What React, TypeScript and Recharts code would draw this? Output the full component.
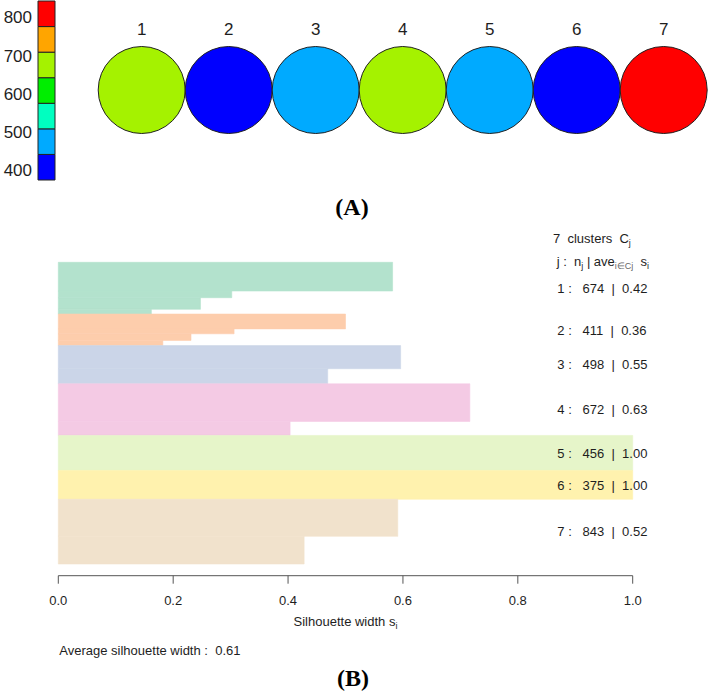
import React from 'react';
import { ComposedChart, ScatterChart, Scatter, XAxis, YAxis, ZAxis, ReferenceArea } from 'recharts';

// cluster summary
const clusterIds = [1, 2, 3, 4, 5, 6, 7];
const clusterSizes = [674, 411, 498, 672, 456, 375, 843];
const clusterAvg = ['0.42', '0.36', '0.55', '0.63', '1.00', '1.00', '0.52'];
const avgWidth = '0.61';

// silhouette steps inside each cluster (width, number of observations)
const stepWidths = [
  [0.582, 0.302, 0.2475, 0.162],
  [0.5, 0.306, 0.231, 0.182],
  [0.596, 0.469],
  [0.7165, 0.4035],
  [1.0],
  [1.0],
  [0.591, 0.428],
];
const stepCounts = [
  [374, 87, 151, 62],
  [193, 64, 86, 68],
  [301, 197],
  [490, 182],
  [456],
  [375],
  [483, 360],
];

const sizeTicks = [400, 500, 600, 700, 800];
const silTicks = [0, 0.2, 0.4, 0.6, 0.8, 1.0];

const rampColors = ['#0000FF', '#00AAFF', '#00FFC0', '#00EE00', '#A5F200', '#FFA500', '#FF0000'];
const pastel = ['#B3E2CD', '#FDCDAC', '#CBD5E8', '#F4CAE4', '#E6F5C9', '#FFF2AE', '#F1E2CC'];

const SANS = '"Liberation Sans", Arial, sans-serif';
const SERIF = '"Liberation Serif", "Times New Roman", serif';
const INK = '#1e1e1e';

const nMin = Math.min(...clusterSizes);
const nMax = Math.max(...clusterSizes);
const binSize = (nMax - nMin) / rampColors.length;
const bins = rampColors.map((c, i) => ({ key: 0.5, lo: nMin + i * binSize, hi: nMin + (i + 1) * binSize, color: c }));
const colorFor = (n: number) =>
  rampColors[Math.min(rampColors.length - 1, Math.floor((n - nMin) / binSize))];

const circleData = clusterIds.map((id, i) => ({ id, level: 0.5, n: clusterSizes[i] }));

const steps: { id: number; w: number; y1: number; y2: number; fill: string }[] = [];
const clusters: { id: number; n: number; ave: string; y1: number; y2: number }[] = [];
let pos = 0;
clusterIds.forEach((id, i) => {
  const start = pos;
  stepWidths[i].forEach((w, k) => {
    steps.push({ id, w, y1: pos, y2: pos + stepCounts[i][k], fill: pastel[i] });
    pos += stepCounts[i][k];
  });
  clusters.push({ id, n: clusterSizes[i], ave: clusterAvg[i], y1: start, y2: pos });
});
const total = pos;

const CircleShape = (props: any) => {
  const { cx, cy, width, payload } = props;
  return <circle cx={cx} cy={cy} r={width / 2} fill={colorFor(payload.n)} stroke="#222" strokeWidth={1} />;
};

const ClusterText = (props: any) => {
  const { viewBox, c } = props;
  const y = viewBox.y + viewBox.height / 2 + 4.7;
  const x = viewBox.x + viewBox.width - 75.4;
  return (
    <text x={x} y={y} fontSize={13} fontFamily={SANS} fill={INK} xmlSpace="preserve" style={{ whiteSpace: 'pre' }}>
      {`${c.id} :   ${c.n}  |  ${c.ave}`}
    </text>
  );
};

export default function App() {
  return (
    <div style={{ position: 'absolute', left: 0, top: 0, width: 709, height: 693, background: '#fff', overflow: 'hidden' }}>
      {/* colour key */}
      <div style={{ position: 'absolute', left: 0, top: 0 }}>
        <ComposedChart data={bins} width={60} height={190} margin={{ top: 1, right: 5, bottom: 10, left: 0 }}>
          <XAxis type="number" dataKey="key" domain={[0, 1]} allowDataOverflow hide />
          <YAxis
            type="number"
            dataKey="lo"
            domain={[nMin, nMax]}
            allowDataOverflow
            ticks={sizeTicks}
            width={38}
            axisLine={false}
            tickLine={false}
            tickSize={4}
            tickMargin={2}
            tick={{ fontSize: 17, fill: INK, fontFamily: SANS }}
          />
          {bins.map((b, i) => (
            <ReferenceArea key={i} x1={0} x2={1} y1={b.lo} y2={b.hi} fill={b.color} fillOpacity={1} stroke="#222" strokeWidth={1} ifOverflow="visible" />
          ))}
        </ComposedChart>
      </div>

      {/* cluster circles */}
      <div style={{ position: 'absolute', left: 0, top: 0 }}>
        <ScatterChart width={709} height={140} margin={{ top: 16.5, right: 1.8, bottom: 6.5, left: 98.2 }}>
          <XAxis
            type="number"
            dataKey="id"
            orientation="top"
            domain={[0.5, 7.5]}
            ticks={clusterIds}
            height={30}
            axisLine={false}
            tickLine={false}
            tickSize={6}
            tickMargin={5.5}
            tick={{ fontSize: 17, fill: INK, fontFamily: SANS }}
          />
          <YAxis type="number" dataKey="level" domain={[0, 1]} hide />
          <ZAxis type="number" dataKey="n" range={[5945, 5945]} />
          <Scatter data={circleData} shape={<CircleShape />} isAnimationActive={false} />
        </ScatterChart>
      </div>

      {/* silhouette plot */}
      <div style={{ position: 'absolute', left: 0, top: 0 }}>
        <ComposedChart data={steps} width={709} height={693} margin={{ top: 262.3, right: 76.3, bottom: 77.3, left: 58.3 }}>
          <XAxis
            type="number"
            dataKey="w"
            domain={[0, 1]}
            allowDataOverflow
            ticks={silTicks}
            tickFormatter={(v: number) => v.toFixed(1)}
            height={40}
            axisLine={{ stroke: '#555' }}
            tickLine={{ stroke: '#555' }}
            tickSize={8}
            tickMargin={12}
            tick={{ fontSize: 13, fill: INK, fontFamily: SANS }}
          />
          <YAxis type="number" dataKey="y1" domain={[0, total]} allowDataOverflow reversed hide padding={{ top: 0, bottom: 11.7 }} />
          {steps.map((s, i) => (
            <ReferenceArea key={`s${i}`} x1={0} x2={s.w} y1={s.y1} y2={s.y2} fill={s.fill} fillOpacity={1} stroke={s.fill} strokeWidth={0.6} ifOverflow="visible" />
          ))}
          {clusters.map((c) => (
            <ReferenceArea
              key={`c${c.id}`}
              x1={0}
              x2={1}
              y1={c.y1}
              y2={c.y2}
              fillOpacity={0}
              stroke="none"
              ifOverflow="visible"
              label={(p: any) => <ClusterText {...p} c={c} />}
            />
          ))}
          <text x={553} y={242.5} fontSize={13} fontFamily={SANS} fill={INK} xmlSpace="preserve" style={{ whiteSpace: 'pre' }}>
            {'7  clusters  C'}
            <tspan fontSize={9} dy={3}>j</tspan>
          </text>
          <text x={556.7} y={266} fontSize={13} fontFamily={SANS} fill={INK} xmlSpace="preserve" style={{ whiteSpace: 'pre' }}>
            {'j :  n'}
            <tspan fontSize={9} dy={3}>j</tspan>
            <tspan dy={-3}>{' | ave'}</tspan>
            <tspan fontSize={9} dy={3} fill="#666">{'i\u2208Cj'}</tspan>
            <tspan dy={-3}>{'  s'}</tspan>
            <tspan fontSize={9} dy={3}>i</tspan>
          </text>
          <text x={345.5} y={626.4} textAnchor="middle" fontSize={13} fontFamily={SANS} fill={INK}>
            Silhouette width s
            <tspan fontSize={9} dy={3}>i</tspan>
          </text>
          <text x={59.3} y={654.7} fontSize={13} fontFamily={SANS} fill={INK} xmlSpace="preserve" style={{ whiteSpace: 'pre' }}>
            {`Average silhouette width :  ${avgWidth}`}
          </text>
          <text x={352} y={215} textAnchor="middle" fontSize={24} fontWeight="bold" fontFamily={SERIF} fill="#000">
            (A)
          </text>
          <text x={353} y={686} textAnchor="middle" fontSize={24} fontWeight="bold" fontFamily={SERIF} fill="#000">
            (B)
          </text>
        </ComposedChart>
      </div>
    </div>
  );
}
